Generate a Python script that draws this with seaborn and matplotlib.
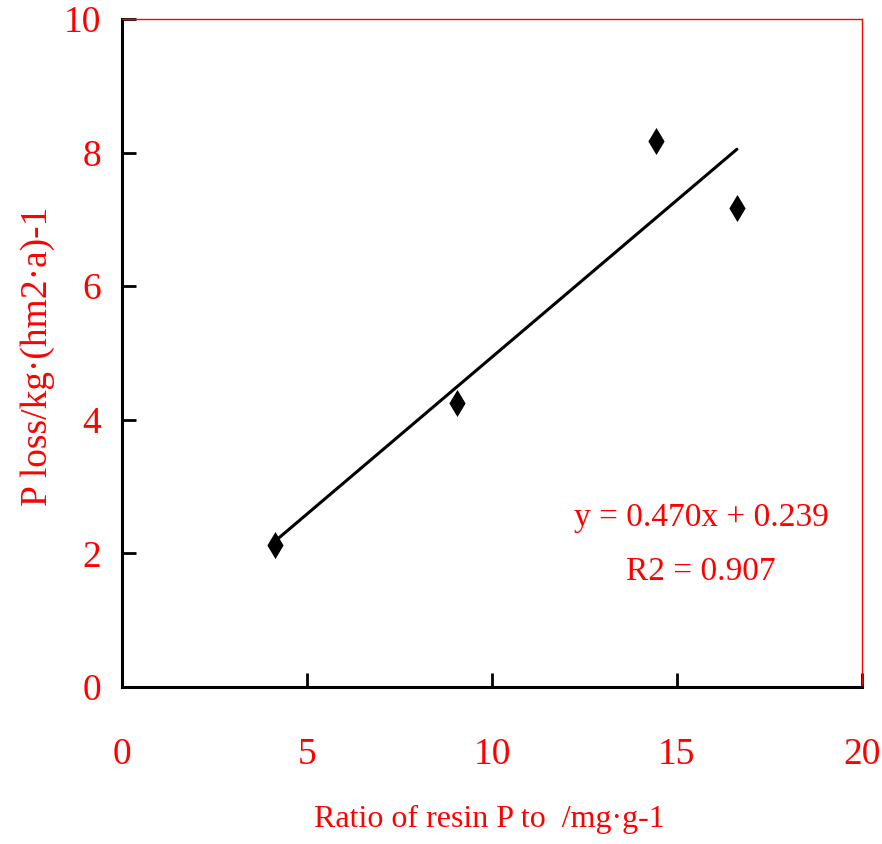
import matplotlib
matplotlib.use("Agg")
import matplotlib.pyplot as plt
import seaborn as sns
import numpy as np
import pandas as pd

# Measured data: resin P ratio vs. P loss
resin_ratio = [4.13, 9.05, 14.43, 16.62]
p_loss = [2.13, 4.25, 8.17, 7.17]

# Linear fit shown on the chart
slope = 0.470
intercept = 0.239
r_squared = 0.907

x_ticks = [0, 5, 10, 15, 20]
y_ticks = [0, 2, 4, 6, 8, 10]

sns.set_theme(style="white")
plt.rcParams["font.family"] = ["Liberation Serif", "DejaVu Serif"]

red = "#ff0000"
df = pd.DataFrame({"ratio": resin_ratio, "loss": p_loss})

fig = plt.figure(figsize=(8.82, 8.44), dpi=100)
ax = fig.add_axes([0.1383, 0.186, 0.839, 0.7915])

sns.scatterplot(data=df, x="ratio", y="loss", marker="d", s=190,
                color="black", edgecolor="black", linewidth=0, ax=ax, zorder=3)

fit_x = np.array([min(resin_ratio), max(resin_ratio)])
fit_y = slope * fit_x + intercept
sns.lineplot(x=fit_x, y=fit_y, color="black", linewidth=2.2, ax=ax, zorder=2)

ax.set_xlim(0, 20)
ax.set_ylim(0, 10)
ax.set_xticks(x_ticks)
ax.set_yticks(y_ticks)

for side in ("left", "bottom"):
    ax.spines[side].set_color("black")
    ax.spines[side].set_linewidth(2.2)
for side in ("top", "right"):
    ax.spines[side].set_color(red)
    ax.spines[side].set_linewidth(1.0)

ax.tick_params(axis="x", direction="in", length=10, width=2, color="black",
               labelsize=27, labelcolor=red, pad=36, bottom=True)
ax.tick_params(axis="y", direction="in", length=10, width=2, color="black",
               labelsize=27, labelcolor=red, pad=15, left=True)

ax.set_xlabel("Ratio of resin P to  /mg·g-1", color=red, fontsize=23,
              va="center", ha="center")
ax.xaxis.set_label_coords(0.497, -0.199)
ax.set_ylabel("P loss/kg·(hm2·a)-1", color=red, fontsize=27,
              va="center", ha="center")
ax.yaxis.set_label_coords(-0.1135, 0.495)

ax.text(15.65, 2.53, f"y = {slope:.3f}x + {intercept:.3f}", color=red,
        fontsize=24, ha="center", va="center")
ax.text(15.65, 1.72, f"R2 = {r_squared:.3f}", color=red,
        fontsize=24, ha="center", va="center")

fig.savefig("out.png", dpi=100, facecolor="white")
